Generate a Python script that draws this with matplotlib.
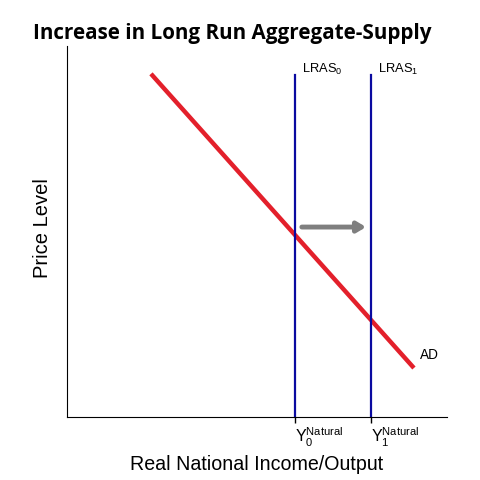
import matplotlib.pyplot as plt

plt.rcParams['font.family'] = ['Liberation Sans', 'DejaVu Sans']
plt.rcParams['mathtext.fontset'] = 'custom'
plt.rcParams['mathtext.rm'] = 'Liberation Sans'

# Aggregate demand endpoints (x, price level)
ad_x = [22.1, 91.3]
ad_y = [92.5, 13.2]

# Long run aggregate supply positions
lras_x = [60.0, 80.0]
lras_top = 92.2
lras_names = [r'LRAS$_0$', r'LRAS$_1$']
tick_labels = [r'Y$_0^{\mathrm{Natural}}$', r'Y$_1^{\mathrm{Natural}}$']

# Shift arrow
arrow_start = (61.8, 51.2)
arrow_end = (78.7, 51.2)

fig = plt.figure(figsize=(4.8, 4.8), dpi=100)
ax = fig.add_axes([67 / 480, 1 - 417 / 480, 380 / 480, 371 / 480])
ax.set_xlim(0, 100)
ax.set_ylim(0, 100)

ax.plot(ad_x, ad_y, color='#e3202b', lw=3.2, solid_capstyle='butt')
for x, name in zip(lras_x, lras_names):
    ax.plot([x, x], [0, lras_top], color='#0a0aa0', lw=1.6)
    ax.text(x + 1.8, lras_top + 1.5, name, fontsize=9.3, va='center', ha='left')

ax.annotate('', xy=arrow_end, xytext=arrow_start,
            arrowprops=dict(arrowstyle='-|>,head_length=0.5,head_width=0.3',
                            color='#7f7f7f', lw=3.5, shrinkA=0, shrinkB=0))

ax.text(92.8, 16.8, 'AD', fontsize=9.8, va='center', ha='left')

ax.set_xticks(lras_x)
ax.set_xticklabels(tick_labels, fontsize=11.5, ha='left')
ax.set_yticks([])
ax.tick_params(axis='x', length=4, width=1, pad=2)
for s in ['top', 'right']:
    ax.spines[s].set_visible(False)

fig.text(232 / 480, 1 - 33 / 480, 'Increase in Long Run Aggregate-Supply',
         ha='center', va='center', fontsize=14.9, fontweight='bold',
         family=['Open Sans', 'DejaVu Sans'])
fig.text(43 / 480, 1 - 228 / 480, 'Price Level', rotation=90,
         ha='center', va='center', fontsize=14.5)
fig.text(257 / 480, 1 - 465 / 480, 'Real National Income/Output',
         ha='center', va='center', fontsize=14.1)

fig.savefig('out.png', dpi=100)
